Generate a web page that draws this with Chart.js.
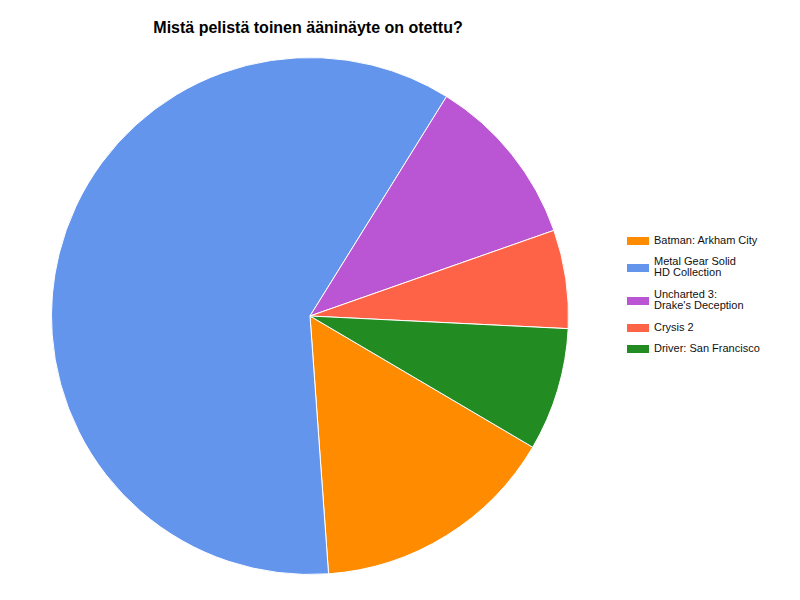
<!DOCTYPE html>
<html>
<head>
<meta charset="utf-8">
<script src="https://cdn.jsdelivr.net/npm/chart.js@4/dist/chart.umd.min.js"></script>
<style>
    body { margin: 0; background: #fff; font-family: "Liberation Sans", Arial, sans-serif; }
    #wrap { position: relative; width: 800px; height: 600px; }
    #title { position: absolute; left: 0; top: 19px; width: 616px; text-align: center; font-weight: bold; font-size: 16px; color: #000; }
    #pieBox { position: absolute; left: 48px; top: 54px; width: 524px; height: 524px; }
    #legend { position: absolute; left: 627px; top: 0; font-size: 11px; color: #111; }
    .legend-item { position: absolute; left: 0; white-space: nowrap; }
    .legend-box { position: absolute; left: 0; width: 22px; height: 8px; }
    .legend-text { position: absolute; left: 27px; line-height: 11px; }
</style>
</head>
<body>
<div id="wrap">
    <div id="title">Mistä pelistä toinen ääninäyte on otettu?</div>
    <div id="pieBox"><canvas id="pieChart" width="524" height="524"></canvas></div>
    <div id="legend"></div>
</div>
<script>
const labels = [
    ['Batman: Arkham City'],
    ['Metal Gear Solid', 'HD Collection'],
    ['Uncharted 3:', "Drake's Deception"],
    ['Crysis 2'],
    ['Driver: San Francisco']
];
const votes = [10, 39, 7, 4, 5];
const colors = ['#FF8C00', '#6495ED', '#BA55D3', '#FF6347', '#228B22'];
const legendRowY = [241, 268, 301, 328, 349];

(function () {
    const legend = document.getElementById('legend');
    labels.forEach((lines, i) => {
        const item = document.createElement('div');
        item.className = 'legend-item';
        item.style.top = legendRowY[i] + 'px';
        const box = document.createElement('div');
        box.className = 'legend-box';
        box.style.background = colors[i];
        box.style.top = '-4px';
        const text = document.createElement('div');
        text.className = 'legend-text';
        text.innerHTML = lines.join('<br>');
        text.style.top = (-lines.length * 11 / 2 - 1) + 'px';
        item.appendChild(box);
        item.appendChild(text);
        legend.appendChild(item);
    });

    const ctx = document.getElementById('pieChart').getContext('2d');
    new Chart(ctx, {
        type: 'pie',
        data: {
            labels: labels.map(l => l.join(' ')),
            datasets: [{
                data: votes,
                backgroundColor: colors,
                borderColor: '#ffffff',
                borderWidth: 1
            }]
        },
        options: {
            responsive: false,
            animation: false,
            devicePixelRatio: 1,
            rotation: 120.5,
            layout: { padding: 3 },
            plugins: {
                legend: { display: false },
                tooltip: { enabled: false },
                title: { display: false }
            }
        }
    });
})();
</script>
</body>
</html>
